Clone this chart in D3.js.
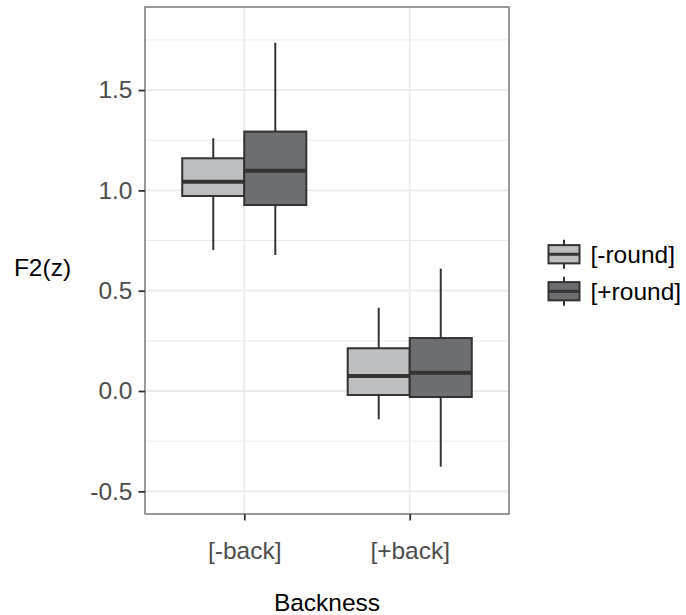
<!DOCTYPE html>
<html>
<head>
<meta charset="utf-8">
<script src="https://cdn.jsdelivr.net/npm/d3@7"></script>
<style>
html,body{margin:0;padding:0;background:#fff;}
svg{display:block;font-family:"Liberation Sans",Arial,sans-serif;}
</style>
</head>
<body>
<svg id="chart" width="686" height="615"></svg>
<script>
// ---- data ----
const categories = ["[-back]", "[+back]"];
const groups = ["[-round]", "[+round]"];
const groupFills = ["#bdbec0", "#6d6e71"];
// [-round] stats per category
const negRoundLower  = [0.703, -0.141];
const negRoundQ1     = [0.972, -0.020];
const negRoundMedian = [1.043,  0.075];
const negRoundQ3     = [1.160,  0.213];
const negRoundUpper  = [1.260,  0.415];
// [+round] stats per category
const posRoundLower  = [0.678, -0.377];
const posRoundQ1     = [0.927, -0.030];
const posRoundMedian = [1.098,  0.091];
const posRoundQ3     = [1.293,  0.264];
const posRoundUpper  = [1.736,  0.610];
const yTicks = [-0.5, 0, 0.5, 1.0, 1.5];
const yMinorTicks = [-0.25, 0.25, 0.75, 1.25, 1.75];
const yTitle = "F2(z)";
const xTitle = "Backness";

// ---- layout ----
const panel = {left:145, right:509, top:7, bottom:514};
const svg = d3.select("#chart");

const y = d3.scaleLinear().domain([-0.613, 1.914]).range([panel.bottom, panel.top]);
const x = d3.scalePoint().domain(categories).range([panel.left, panel.right]).padding(0.6);
const step = x.step();
const xg = d3.scaleBand().domain(groups).range([-0.375*step, 0.375*step]);

const stats = [
  {lower:negRoundLower, q1:negRoundQ1, med:negRoundMedian, q3:negRoundQ3, upper:negRoundUpper},
  {lower:posRoundLower, q1:posRoundQ1, med:posRoundMedian, q3:posRoundQ3, upper:posRoundUpper}
];
const boxes = [];
categories.forEach((c, ci) => {
  groups.forEach((g, gi) => {
    const s = stats[gi];
    boxes.push({cat:c, group:g, gi, lower:s.lower[ci], q1:s.q1[ci], med:s.med[ci], q3:s.q3[ci], upper:s.upper[ci]});
  });
});

// grid
const grid = svg.append("g");
grid.selectAll("line.minor").data(yMinorTicks).enter().append("line")
  .attr("x1", panel.left).attr("x2", panel.right)
  .attr("y1", d => y(d)).attr("y2", d => y(d))
  .attr("stroke", "#ebebeb").attr("stroke-width", 1);
grid.selectAll("line.major").data(yTicks).enter().append("line")
  .attr("x1", panel.left).attr("x2", panel.right)
  .attr("y1", d => y(d)).attr("y2", d => y(d))
  .attr("stroke", "#ebebeb").attr("stroke-width", 1.8);
grid.selectAll("line.vmajor").data(categories).enter().append("line")
  .attr("x1", d => x(d)).attr("x2", d => x(d))
  .attr("y1", panel.top).attr("y2", panel.bottom)
  .attr("stroke", "#ebebeb").attr("stroke-width", 1.8);

// boxes
const stroke = "#333333";
const bg = svg.append("g");
boxes.forEach(b => {
  const cx = x(b.cat) + xg(b.group) + xg.bandwidth()/2;
  const x0 = x(b.cat) + xg(b.group);
  const w = xg.bandwidth();
  bg.append("line").attr("x1", cx).attr("x2", cx).attr("y1", y(b.upper)).attr("y2", y(b.q3))
    .attr("stroke", stroke).attr("stroke-width", 2);
  bg.append("line").attr("x1", cx).attr("x2", cx).attr("y1", y(b.q1)).attr("y2", y(b.lower))
    .attr("stroke", stroke).attr("stroke-width", 2);
  bg.append("rect").attr("x", x0).attr("y", y(b.q3)).attr("width", w).attr("height", y(b.q1) - y(b.q3))
    .attr("fill", groupFills[b.gi]).attr("stroke", stroke).attr("stroke-width", 2);
  bg.append("line").attr("x1", x0).attr("x2", x0 + w).attr("y1", y(b.med)).attr("y2", y(b.med))
    .attr("stroke", stroke).attr("stroke-width", 4);
});

// panel border
svg.append("rect").attr("x", panel.left).attr("y", panel.top)
  .attr("width", panel.right - panel.left).attr("height", panel.bottom - panel.top)
  .attr("fill", "none").attr("stroke", "#7a7a7a").attr("stroke-width", 1.5);

// axes
const fontSize = 24.5;
const yAxis = svg.append("g").attr("transform", `translate(${panel.left},0)`)
  .call(d3.axisLeft(y).tickValues(yTicks).tickFormat(d => d.toFixed(1)).tickSize(6.5).tickPadding(6));
yAxis.select(".domain").remove();
yAxis.selectAll(".tick line").attr("stroke", "#333").attr("stroke-width", 1.8);
yAxis.selectAll(".tick text").attr("fill", "#4d4d4d").style("font-size", fontSize + "px")
  .style("font-family", "Liberation Sans, Arial, sans-serif");

const xAxis = svg.append("g").attr("transform", `translate(0,${panel.bottom})`)
  .call(d3.axisBottom(x).tickSize(6.5).tickPadding(21.5));
xAxis.select(".domain").remove();
xAxis.selectAll(".tick line").attr("stroke", "#333").attr("stroke-width", 1.8);
xAxis.selectAll(".tick text").attr("fill", "#4d4d4d").style("font-size", fontSize + "px")
  .style("font-family", "Liberation Sans, Arial, sans-serif");

// titles
svg.append("text").attr("x", (panel.left + panel.right)/2).attr("y", 610.5)
  .attr("text-anchor", "middle").attr("fill", "#000").style("font-size", fontSize + "px").text(xTitle);
svg.append("text").attr("x", 42.5).attr("y", 276)
  .attr("text-anchor", "middle").attr("fill", "#000").style("font-size", fontSize + "px").text(yTitle);

// legend
const legend = svg.append("g");
const keyX0 = 548.5, keyW = 31, keyH = 36.5, keyTop = 236, keyGap = 0.5;
groups.forEach((g, i) => {
  const top = keyTop + i*(keyH + keyGap);
  const cx = keyX0 + keyW/2;
  legend.append("line").attr("x1", cx).attr("x2", cx).attr("y1", top + keyH*0.1).attr("y2", top + keyH*0.9)
    .attr("stroke", stroke).attr("stroke-width", 2);
  legend.append("rect").attr("x", keyX0).attr("y", top + keyH*0.25).attr("width", keyW).attr("height", keyH*0.5)
    .attr("fill", groupFills[i]).attr("stroke", stroke).attr("stroke-width", 2);
  legend.append("line").attr("x1", keyX0).attr("x2", keyX0 + keyW).attr("y1", top + keyH*0.5).attr("y2", top + keyH*0.5)
    .attr("stroke", stroke).attr("stroke-width", 3);
  legend.append("text").attr("x", 590.5).attr("y", top + keyH*0.5 + 8.5)
    .attr("fill", "#000").style("font-size", fontSize + "px").text(g);
});
</script>
</body>
</html>
